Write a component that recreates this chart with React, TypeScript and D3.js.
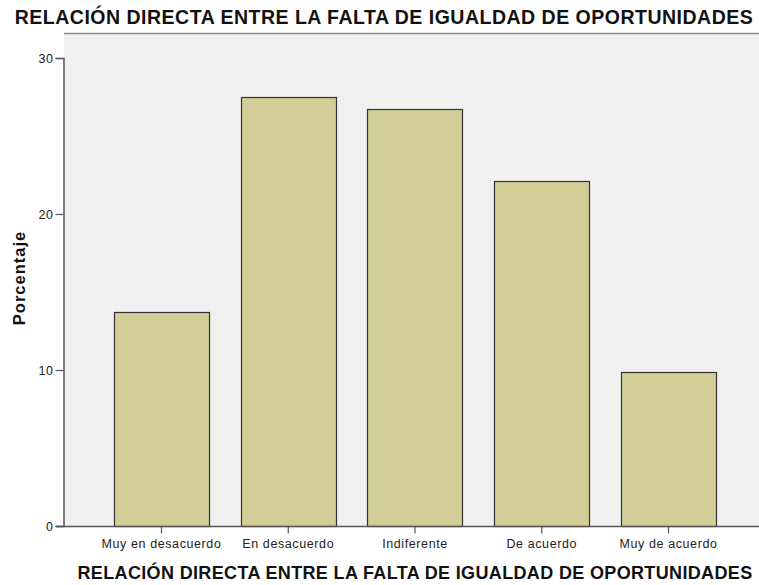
import React, { useEffect, useRef } from 'react';
import * as d3 from 'd3';

const categories = ['Muy en desacuerdo', 'En desacuerdo', 'Indiferente', 'De acuerdo', 'Muy de acuerdo'];
const percentages = [13.7, 27.5, 26.7, 22.1, 9.9];
const yTicks = [0, 10, 20, 30];
const chartTitle = 'RELACIÓN DIRECTA ENTRE LA FALTA DE IGUALDAD DE OPORTUNIDADES';

const App = () => {
  const svgRef = useRef<SVGSVGElement>(null);

  useEffect(() => {
    const width = 759;
    const height = 585;
    const left = 64;
    const right = 766;
    const top = 33;
    const bottom = 526;

    const svg = d3.select(svgRef.current);
    svg.selectAll('*').remove();
    svg.attr('width', width).attr('height', height);

    const font = 'Arial, "Liberation Sans", sans-serif';

    const x = d3.scaleBand().domain(categories).range([left, right]).paddingInner(0.25).paddingOuter(0.394);
    const y = d3.scaleLinear().domain([0, 30]).range([bottom, bottom - 468]);

    svg.append('rect').attr('width', width).attr('height', height).attr('fill', '#fff');

    // plot background
    svg.append('rect')
      .attr('x', left).attr('y', top)
      .attr('width', width - left).attr('height', bottom - top)
      .attr('fill', '#f0f0f0');
    svg.append('line')
      .attr('x1', left).attr('x2', width).attr('y1', top + 0.5).attr('y2', top + 0.5)
      .attr('stroke', '#8a8a8a').attr('stroke-width', 1.5);

    svg.selectAll('.bar')
      .data(percentages)
      .enter()
      .append('rect')
      .attr('class', 'bar')
      .attr('x', (d, i) => Math.round(x(categories[i])!) + 0.5)
      .attr('y', (d) => Math.round(y(d)) + 0.5)
      .attr('width', Math.round(x.bandwidth()))
      .attr('height', (d) => bottom - Math.round(y(d)))
      .attr('fill', '#d3ce98')
      .attr('stroke', '#333')
      .attr('stroke-width', 1.2);

    // y axis
    const yAxis = svg.append('g')
      .attr('transform', `translate(${left - 0.5},0)`)
      .call(d3.axisLeft(y).tickValues(yTicks).tickSize(8).tickPadding(2).tickFormat(d3.format('d')));
    yAxis.select('.domain').attr('stroke', '#555').attr('stroke-width', 1.5);
    yAxis.selectAll('.tick line').attr('stroke', '#555').attr('stroke-width', 1.2);
    yAxis.selectAll('text')
      .attr('font-family', font).attr('font-size', 12.5).attr('letter-spacing', 0.6).attr('fill', '#222');

    // x axis
    const xAxis = svg.append('g')
      .attr('transform', `translate(0,${bottom + 0.5})`)
      .call(d3.axisBottom(x).tickSize(7).tickPadding(5.5).tickSizeOuter(0));
    xAxis.select('.domain').attr('stroke', '#555').attr('stroke-width', 1.5)
      .attr('d', `M${left - 8},0H${width}`);
    xAxis.selectAll('.tick line').attr('stroke', '#555').attr('stroke-width', 1.2);
    xAxis.selectAll('text')
      .attr('font-family', font).attr('font-size', 12.5).attr('letter-spacing', 0.6).attr('fill', '#222');

    // titles
    svg.append('text')
      .attr('x', 384).attr('y', 24)
      .attr('text-anchor', 'middle')
      .attr('font-family', font).attr('font-weight', 'bold').attr('font-size', 19.5)
      .attr('letter-spacing', 0.5)
      .attr('fill', '#111')
      .text(chartTitle);

    svg.append('text')
      .attr('x', 415).attr('y', 579)
      .attr('text-anchor', 'middle')
      .attr('font-family', font).attr('font-weight', 'bold').attr('font-size', 18)
      .attr('letter-spacing', 0.35)
      .attr('fill', '#111')
      .text(chartTitle);

    svg.append('text')
      .attr('transform', 'translate(25,278) rotate(-90)')
      .attr('text-anchor', 'middle')
      .attr('font-family', font).attr('font-weight', 'bold').attr('font-size', 16.5)
      .attr('letter-spacing', 1)
      .attr('fill', '#111')
      .text('Porcentaje');
  }, []);

  return <svg ref={svgRef} style={{ position: 'absolute', left: 0, top: 0 }}></svg>;
};

export default App;
